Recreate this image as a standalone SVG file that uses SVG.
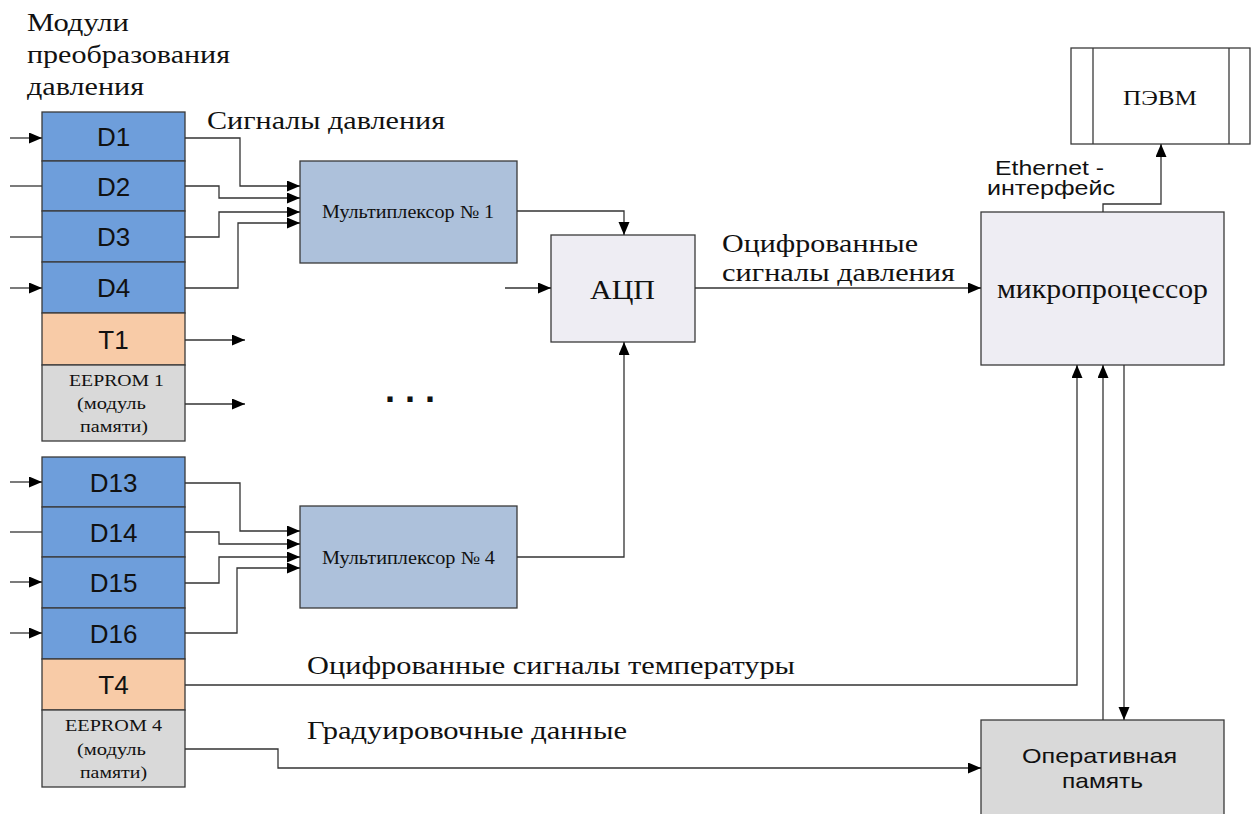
<svg xmlns="http://www.w3.org/2000/svg" width="1255" height="814" viewBox="0 0 1255 814">
<style>
.serif{font-family:"Liberation Serif","Times New Roman",serif;fill:#111}
.sans{font-family:"Liberation Sans",Arial,sans-serif;fill:#111}
.box{stroke:#3a3a3a;stroke-width:1.3}
.d{fill:#6e9edb}
.t{fill:#f8cba7}
.e{fill:#d9d9d9}
.mux{fill:#adc1db}
.lav{fill:#eeedf3}
.con{fill:none;stroke:#333;stroke-width:1.3}
.lbl{font-size:26px}
.dl{font-size:26px;text-anchor:middle}
.ee{font-size:17px}
</style>
<defs>
<marker id="ar" markerUnits="userSpaceOnUse" markerWidth="14" markerHeight="12" refX="13" refY="5.5" orient="auto">
<path d="M0,0 L13,5.5 L0,11 z" fill="#000"/>
</marker>
</defs>
<g id="labels">
<text class="serif lbl" x="27" y="31" textLength="102" lengthAdjust="spacingAndGlyphs">Модули</text>
<text class="serif lbl" x="27" y="63" textLength="203" lengthAdjust="spacingAndGlyphs">преобразования</text>
<text class="serif lbl" x="27" y="95" textLength="117" lengthAdjust="spacingAndGlyphs">давления</text>
<text class="serif lbl" x="207" y="129" textLength="238" lengthAdjust="spacingAndGlyphs">Сигналы давления</text>
<text class="serif lbl" x="722" y="252" textLength="196" lengthAdjust="spacingAndGlyphs">Оцифрованные</text>
<text class="serif lbl" x="722" y="281" textLength="233" lengthAdjust="spacingAndGlyphs">сигналы давления</text>
<text class="serif lbl" x="307" y="674" textLength="488" lengthAdjust="spacingAndGlyphs">Оцифрованные сигналы температуры</text>
<text class="serif lbl" x="307" y="739" textLength="320" lengthAdjust="spacingAndGlyphs">Градуировочные данные</text>
<text class="sans" font-size="20" x="995" y="175" textLength="109" lengthAdjust="spacingAndGlyphs">Ethernet -</text>
<text class="sans" font-size="20" x="987" y="195" textLength="128" lengthAdjust="spacingAndGlyphs">интерфейс</text>
<text class="sans" font-size="36" font-weight="bold" x="385" y="402">. . .</text>
</g>
<g id="module1">
<rect class="box d" x="42" y="112" width="143" height="49"/>
<text class="sans dl" x="113.5" y="146">D1</text>
<rect class="box d" x="42" y="161" width="143" height="50"/>
<text class="sans dl" x="113.5" y="196">D2</text>
<rect class="box d" x="42" y="211" width="143" height="51"/>
<text class="sans dl" x="113.5" y="246">D3</text>
<rect class="box d" x="42" y="262" width="143" height="51"/>
<text class="sans dl" x="113.5" y="297">D4</text>
<rect class="box t" x="42" y="313" width="143" height="52"/>
<text class="sans dl" x="113.5" y="349">T1</text>
<rect class="box e" x="42" y="365" width="143" height="76"/>
<text class="serif ee" x="69" y="386" textLength="95" lengthAdjust="spacingAndGlyphs">EEPROM 1</text>
<text class="serif ee" x="77" y="409" textLength="69" lengthAdjust="spacingAndGlyphs">(модуль</text>
<text class="serif ee" x="80" y="432" textLength="68" lengthAdjust="spacingAndGlyphs">памяти)</text>
</g>
<g id="module4">
<rect class="box d" x="42" y="457" width="143" height="50"/>
<text class="sans dl" x="113.5" y="492">D13</text>
<rect class="box d" x="42" y="507" width="143" height="50"/>
<text class="sans dl" x="113.5" y="542">D14</text>
<rect class="box d" x="42" y="557" width="143" height="51"/>
<text class="sans dl" x="113.5" y="592">D15</text>
<rect class="box d" x="42" y="608" width="143" height="51"/>
<text class="sans dl" x="113.5" y="643">D16</text>
<rect class="box t" x="42" y="659" width="143" height="51"/>
<text class="sans dl" x="113.5" y="694">T4</text>
<rect class="box e" x="42" y="710" width="143" height="77"/>
<text class="serif ee" x="65" y="731" textLength="97" lengthAdjust="spacingAndGlyphs">EEPROM 4</text>
<text class="serif ee" x="77" y="755" textLength="69" lengthAdjust="spacingAndGlyphs">(модуль</text>
<text class="serif ee" x="80" y="778" textLength="67" lengthAdjust="spacingAndGlyphs">памяти)</text>
</g>
<g id="mux1">
<rect class="box mux" x="300" y="161" width="217" height="102"/>
<text class="serif" font-size="18" x="322" y="218" textLength="172" lengthAdjust="spacingAndGlyphs">Мультиплексор № 1</text>
</g>
<g id="mux4">
<rect class="box mux" x="300" y="506" width="217" height="102"/>
<text class="serif" font-size="18" x="322" y="564" textLength="173" lengthAdjust="spacingAndGlyphs">Мультиплексор № 4</text>
</g>
<g id="adc">
<rect class="box lav" x="551" y="235" width="144" height="107"/>
<text class="serif" font-size="28" x="590" y="299" textLength="65" lengthAdjust="spacingAndGlyphs">АЦП</text>
</g>
<g id="cpu">
<rect class="box lav" x="981" y="212" width="243" height="153"/>
<text class="serif" font-size="27" x="997" y="298" textLength="211" lengthAdjust="spacingAndGlyphs">микропроцессор</text>
</g>
<g id="pc">
<rect class="box" fill="#fff" x="1071" y="48" width="179" height="96"/>
<line class="box" x1="1093" y1="48" x2="1093" y2="144"/>
<line class="box" x1="1229" y1="48" x2="1229" y2="144"/>
<text class="serif" font-size="22" x="1123" y="105" textLength="74" lengthAdjust="spacingAndGlyphs">ПЭВМ</text>
</g>
<g id="ram">
<rect class="box e" x="981" y="720" width="243" height="110"/>
<text class="sans" font-size="21" x="1022" y="763" textLength="155" lengthAdjust="spacingAndGlyphs">Оперативная</text>
<text class="sans" font-size="21" x="1062" y="788" textLength="81" lengthAdjust="spacingAndGlyphs">память</text>
</g>
<g id="connectors">
<path class="con" d="M10,138 H42" marker-end="url(#ar)"/>
<path class="con" d="M10,186 H42"/>
<path class="con" d="M10,237 H42"/>
<path class="con" d="M10,288 H42" marker-end="url(#ar)"/>
<path class="con" d="M10,482 H42" marker-end="url(#ar)"/>
<path class="con" d="M10,532 H42"/>
<path class="con" d="M10,582 H42" marker-end="url(#ar)"/>
<path class="con" d="M10,633 H42" marker-end="url(#ar)"/>
<path class="con" d="M185,138 H240 V186 H300" marker-end="url(#ar)"/>
<path class="con" d="M185,186 H219 V198 H300" marker-end="url(#ar)"/>
<path class="con" d="M185,237 H219 V212 H300" marker-end="url(#ar)"/>
<path class="con" d="M185,288 H238 V223 H300" marker-end="url(#ar)"/>
<path class="con" d="M185,483 H240 V531 H300" marker-end="url(#ar)"/>
<path class="con" d="M185,532 H219 V544 H300" marker-end="url(#ar)"/>
<path class="con" d="M185,583 H219 V557 H300" marker-end="url(#ar)"/>
<path class="con" d="M185,633 H237 V568 H300" marker-end="url(#ar)"/>
<path class="con" d="M185,340 H245" marker-end="url(#ar)"/>
<path class="con" d="M185,404 H245" marker-end="url(#ar)"/>
<path class="con" d="M517,211 H624 V235" marker-end="url(#ar)"/>
<path class="con" d="M517,557 H624 V342" marker-end="url(#ar)"/>
<path class="con" d="M505,288 H551" marker-end="url(#ar)"/>
<path class="con" d="M695,288 H981" marker-end="url(#ar)"/>
<path class="con" d="M185,685 H1077 V365" marker-end="url(#ar)"/>
<path class="con" d="M1103,720 V365" marker-end="url(#ar)"/>
<path class="con" d="M1124,365 V720" marker-end="url(#ar)"/>
<path class="con" d="M185,749 H278 V768 H981" marker-end="url(#ar)"/>
<path class="con" d="M1103,212 V204 H1161 V144" marker-end="url(#ar)"/>
</g>
</svg>
